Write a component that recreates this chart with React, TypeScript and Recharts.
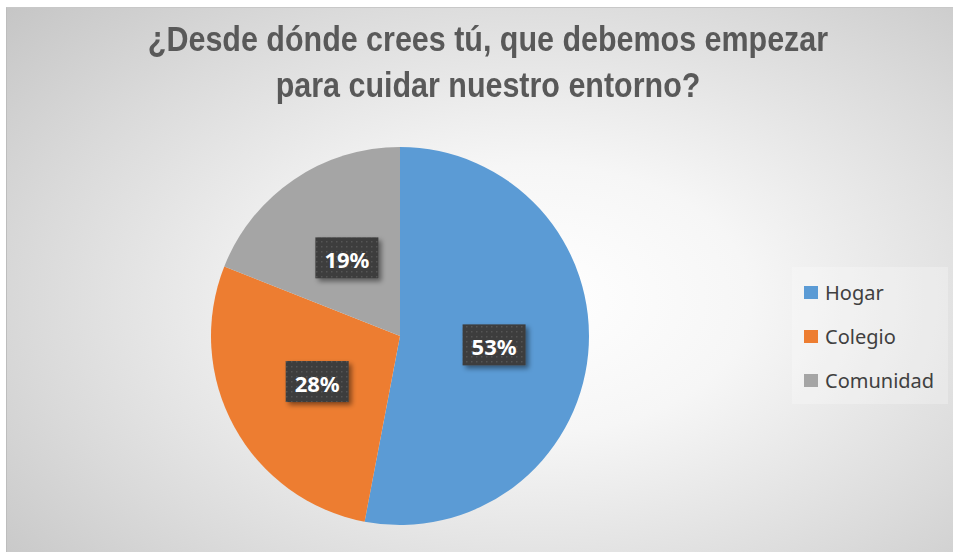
import { PieChart, Pie, Cell, Legend } from "recharts";

const categories = ["Hogar", "Colegio", "Comunidad"];
const values = [53, 28, 19];
const colors = ["#5B9BD5", "#ED7D31", "#A5A5A5"];
const titleLines = ["¿Desde dónde crees tú, que debemos empezar", "para cuidar nuestro entorno?"];

const data = categories.map((name, i) => ({ name, value: values[i] }));

const RAD = Math.PI / 180;

const renderLabel = (props: any) => {
  const { cx, cy, midAngle, outerRadius, percent } = props;
  const r = outerRadius * 0.5;
  const x = cx + r * Math.cos(-midAngle * RAD);
  const y = cy + r * Math.sin(-midAngle * RAD);
  const w = 63;
  const h = 41;
  return (
    <g>
      <rect x={x - w / 2} y={y - h / 2} width={w} height={h} fill="url(#dotPattern)" filter="url(#labelShadow)" />
      <text
        x={x}
        y={y + 1}
        textAnchor="middle"
        dominantBaseline="central"
        fill="#ffffff"
        fontFamily="'Noto Sans', sans-serif"
        fontWeight="bold"
        fontSize={22}
      >
        {`${Math.round(percent * 100)}%`}
      </text>
    </g>
  );
};

const renderLegend = () => (
  <div
    style={{
      width: 156,
      height: 137,
      background: "rgba(255,255,255,0.25)",
      boxSizing: "border-box",
      paddingTop: 3,
      paddingLeft: 12,
      fontFamily: "'Noto Sans', sans-serif",
      fontSize: 20,
      color: "#404040",
    }}
  >
    {data.map((d, i) => (
      <div key={d.name} style={{ display: "flex", alignItems: "center", height: 44 }}>
        <span style={{ display: "inline-block", width: 14, height: 13, background: colors[i], marginRight: 7 }} />
        <span>{d.name}</span>
      </div>
    ))}
  </div>
);

export default function App() {
  return (
    <div style={{ position: "absolute", left: 0, top: 0, width: 953, height: 552, background: "#ffffff", overflow: "hidden" }}>
      <style>{`.recharts-pie-sectors { filter: drop-shadow(0 0 5px rgba(0,0,0,0.22)); }`}</style>
      <div
        style={{
          position: "absolute",
          left: 6,
          top: 7,
          width: 960,
          height: 560,
          borderLeft: "1px solid #bdbdbd",
          borderTop: "1px solid #c8c8c8",
          background: "radial-gradient(ellipse 75% 80% at 55% 52%, #ffffff 0%, #f6f6f6 30%, #dadada 70%, #c4c4c4 100%)",
        }}
      />
      <div
        style={{
          position: "absolute",
          left: 0,
          top: 16,
          width: 976,
          textAlign: "center",
          fontFamily: "'Liberation Sans', Arial, sans-serif",
          fontWeight: "bold",
          fontSize: 35,
          lineHeight: "46px",
          color: "#595959",
          transform: "scaleX(0.87)",
          transformOrigin: "488px 0",
          whiteSpace: "nowrap",
        }}
      >
        {titleLines.map((t) => (
          <div key={t}>{t}</div>
        ))}
      </div>
      <div style={{ position: "absolute", left: 0, top: 0 }}>
        <PieChart width={953} height={552} margin={{ top: 0, right: 0, bottom: 0, left: 0 }}>
          <defs>
            <pattern id="dotPattern" width="5" height="5" patternUnits="userSpaceOnUse">
              <rect width="5" height="5" fill="#3d3d3d" />
              <rect x="1" y="1" width="1.5" height="1.5" fill="#555555" />
            </pattern>
            <filter id="labelShadow" x="-30%" y="-30%" width="160%" height="160%">
              <feDropShadow dx="3" dy="3" stdDeviation="2.5" floodColor="#000" floodOpacity="0.45" />
            </filter>
          </defs>
          <Pie
            data={data}
            dataKey="value"
            nameKey="name"
            cx={400}
            cy={336}
            outerRadius={189}
            startAngle={90}
            endAngle={-270}
            stroke="none"
            labelLine={false}
            label={renderLabel}
            isAnimationActive={false}
          >
            {data.map((d, i) => (
              <Cell key={d.name} fill={colors[i]} />
            ))}
          </Pie>
          <Legend
            layout="vertical"
            align="right"
            verticalAlign="middle"
            content={renderLegend}
            wrapperStyle={{ left: 792, top: 267, width: 156, height: 137 }}
          />
        </PieChart>
      </div>
    </div>
  );
}
